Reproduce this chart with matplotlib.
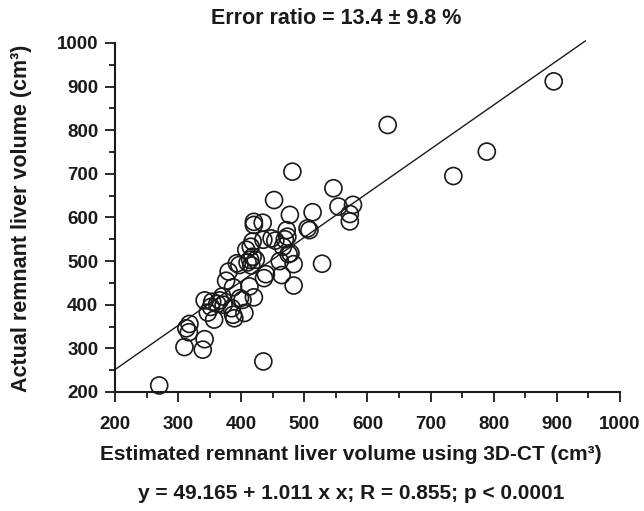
#!/usr/bin/env python3
"""Estimated vs actual remnant liver volume scatter with regression line."""

import matplotlib
matplotlib.use("Agg")
import matplotlib.pyplot as plt
from matplotlib.ticker import MultipleLocator
import numpy as np

plt.rcParams["font.family"] = ["Liberation Sans", "DejaVu Sans"]
plt.rcParams["font.weight"] = "bold"

# estimated (3D-CT) vs actual remnant liver volume, cm^3
estimated = [
    270, 310, 313, 318, 317, 339, 342, 342, 347, 354, 357, 352, 362, 366, 370,
    372, 376, 380, 387, 387, 389, 385, 397, 405, 402, 413, 408, 415, 420, 410,
    414, 418, 423, 416, 420, 420, 418, 434, 435, 436, 439, 435, 452, 454, 464,
    461, 466, 469, 472, 473, 477, 475, 481, 483, 483, 478, 505, 508, 513, 528,
    546, 554, 572, 572, 577, 632, 736, 789, 895, 448, 393, 398,
]
actual = [
    215, 303, 346, 356, 337, 297, 321, 410, 382, 407, 366, 395, 402, 410, 419,
    400, 455, 476, 440, 377, 369, 392, 491, 381, 411, 442, 526, 533, 417, 497,
    503, 510, 503, 490, 583, 590, 545, 588, 549, 461, 470, 270, 640, 547, 468,
    500, 533, 550, 571, 556, 606, 516, 705, 493, 444, 518, 575, 571, 612, 494,
    667, 625, 608, 591, 629, 812, 695, 751, 912, 552, 495, 415,
]

intercept = 49.165
slope = 1.011
line_x = [200, 945]

ink = "#1a1a1a"

fig = plt.figure(figsize=(6.44, 5.11), dpi=100)
ax = fig.add_axes([0.1786, 0.2329, 0.7841, 0.683])

fit_x = np.array(line_x)
ax.plot(fit_x, intercept + slope * fit_x, color=ink, linewidth=1.0, clip_on=False)
ax.scatter(estimated, actual, s=150, facecolors="none", edgecolors=ink,
           linewidths=1.2, clip_on=False, zorder=3)

ax.set_xlim(200, 1000)
ax.set_ylim(200, 1000)
ax.xaxis.set_major_locator(MultipleLocator(100))
ax.xaxis.set_minor_locator(MultipleLocator(50))
ax.yaxis.set_major_locator(MultipleLocator(100))
ax.yaxis.set_minor_locator(MultipleLocator(50))

for side in ("top", "right"):
    ax.spines[side].set_visible(False)
for side in ("left", "bottom"):
    ax.spines[side].set_linewidth(1.5)
    ax.spines[side].set_color(ink)

ax.tick_params(which="major", direction="out", length=7, width=1.3, labelsize=13.5,
               colors=ink)
ax.tick_params(which="minor", direction="out", length=4, width=1.3, colors=ink)
ax.tick_params(axis="x", which="major", pad=10)
ax.tick_params(axis="y", which="major", pad=5)
for lbl in ax.get_xticklabels() + ax.get_yticklabels():
    lbl.set_fontweight("bold")

fig.text(0.522, 0.963, "Error ratio = 13.4 \u00b1 9.8 %", ha="center", va="center",
         fontsize=15.5, fontweight="bold", color=ink)
fig.text(0.545, 0.110, "Estimated remnant liver volume using 3D-CT (cm\u00b3)",
         ha="center", va="center", fontsize=15, fontweight="bold", color=ink)
fig.text(0.545, 0.035, "y = 49.165 + 1.011 x x; R = 0.855; p < 0.0001",
         ha="center", va="center", fontsize=15, fontweight="bold", color=ink)
fig.text(0.034, 0.573, "Actual remnant liver volume (cm\u00b3)", rotation=90,
         ha="center", va="center", fontsize=15.5, fontweight="bold", color=ink)

fig.savefig("out.png", dpi=100)
